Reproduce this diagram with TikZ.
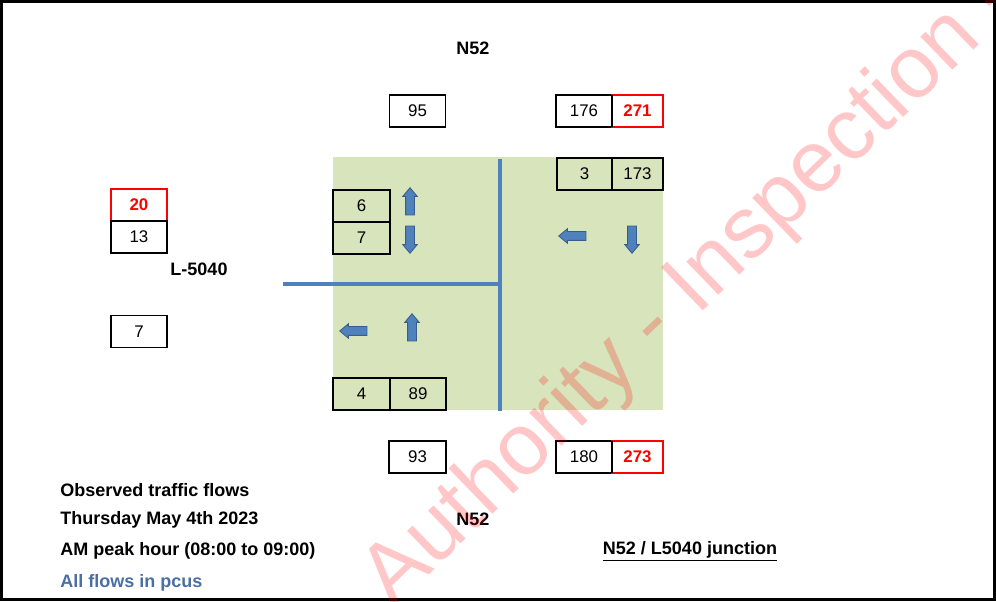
\documentclass[tikz,border=0pt]{standalone}
\usepackage{fontspec}
\setmainfont{Liberation Sans}
\usetikzlibrary{positioning,shapes.arrows}
\definecolor{cG}{HTML}{D8E4BC}
\definecolor{cB}{HTML}{4F81BD}
\definecolor{cE}{HTML}{385D8A}
\definecolor{cR}{HTML}{FF0000}
\definecolor{cT}{HTML}{4A6FA5}
\tikzset{
  cell/.style={draw,line width=1.4pt,outer sep=0pt,inner sep=0pt,
               minimum width=1.4cm,minimum height=0.8cm,
               font=\fontsize{12}{14}\selectfont},
  ncell/.style={cell,minimum width=1.275cm},
  rcell/.style={cell,draw=cR,text=cR,font=\fontsize{12}{14}\selectfont\bfseries},
  lbl/.style={font=\fontsize{12.8}{15}\selectfont\bfseries},
  info/.style={lbl,anchor=west,inner sep=0pt},
  road/.style={cB,line width=2.4pt},
  blk/.style={single arrow,draw=cE,fill=cB,line width=0.6pt,inner sep=0.1cm,
              minimum height=0.68cm,single arrow head extend=0.07cm,
              single arrow tip angle=80},
  wm/.style={text=cR,text opacity=0.22,font=\fontsize{62}{64}\selectfont},
}
\begin{document}
\begin{tikzpicture}[x=0.025cm,y=-0.025cm]
  \useasboundingbox (0,0) rectangle (996,602);
  % junction area and roads
  \fill[cG] (333,157) rectangle (663,410);
  \draw[road] (500,159) -- (500,411);
  \draw[road] (283,284) -- (500,284);
  \draw[line width=2.2pt] (1.5,1.5) rectangle (994.5,599.5);

  % road names
  \node[lbl] (n52top) at (473,48) {N52};
  \node[lbl] (l5040) at (199,269) {L-5040};
  \node[lbl] (n52bot) at (473,519) {N52};

  % flow counts, north arm
  \node[cell] (c95) at (417.5,111) {95};
  \node[cell] (c176) at (584,111) {176};
  \node[rcell,minimum width=1.275cm,right=0pt of c176] (c271) {271};
  \draw[line width=1.4pt] (c176.north east) -- (c176.south east);
  \node[cell,minimum width=1.375cm] (c3) at (584.5,174) {3};
  \node[ncell,right=0pt of c3] (c173) {173};
  % west arm
  \node[rcell] (c20) at (139,205) {20};
  \node[cell,below=0pt of c20] (c13) {13};
  \node[cell] (c7w) at (139,331.5) {7};
  \node[cell,minimum width=1.425cm] (c6) at (361.5,206) {6};
  \node[cell,minimum width=1.425cm,below=0pt of c6] (c7) {7};
  % south arm
  \node[cell,minimum width=1.425cm] (c4) at (361.5,394) {4};
  \node[cell,right=0pt of c4] (c89) {89};
  \node[cell,minimum width=1.425cm] (c93) at (417.5,457) {93};
  \node[cell] (c180) at (584,457) {180};
  \node[rcell,minimum width=1.275cm,right=0pt of c180] (c273) {273};
  \draw[line width=1.4pt] (c180.north east) -- (c180.south east);

  % turning movements
  \node[blk,rotate=90] (aUpW) at (410,204) {};
  \node[blk,rotate=-90] (aDnW) at (410,237) {};
  \node[blk,rotate=180] (aLtN) at (575,236) {};
  \node[blk,rotate=-90] (aDnN) at (632,237) {};
  \node[blk,rotate=180] (aLtS) at (356,331) {};
  \node[blk,rotate=90] (aUpS) at (412,330) {};

  % notes
  \node[info] (obs) at (60,490) {Observed traffic flows};
  \node[info] (day) at (60,520) {Thursday May 4th 2023};
  \node[info] (peak) at (60,551) {AM peak hour (08:00 to 09:00)};
  \node[info,text=cT] (unit) at (60,583) {All flows in pcus};
  \node[lbl] (title) at (690,551) {\underline{N52 / L5040 junction}};

  \node[wm,rotate=44] (mark) at (692,290) {Authority - Inspection -};
\end{tikzpicture}
\end{document}
